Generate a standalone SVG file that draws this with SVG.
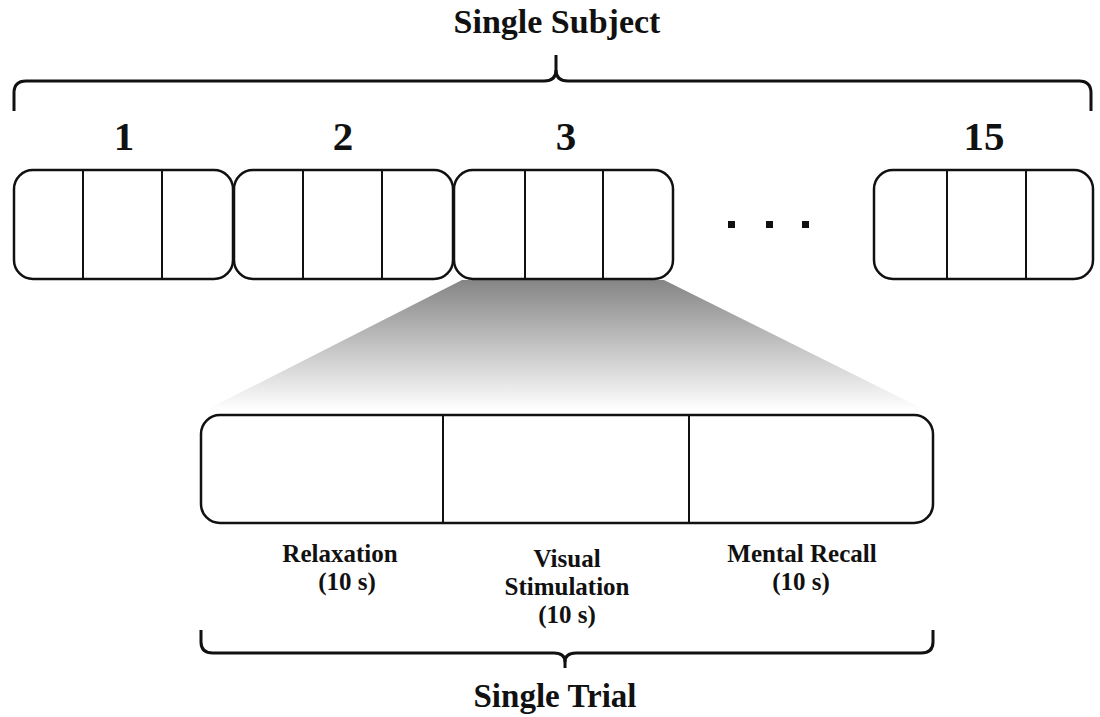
<svg xmlns="http://www.w3.org/2000/svg" width="1100" height="717" viewBox="0 0 1100 717">
<style>
.box{fill:#fff;stroke:#111;stroke-width:2.5}
.div{stroke:#111;stroke-width:2}
.brace{fill:none;stroke:#111;stroke-width:3;stroke-linejoin:round}
.t{font-family:"Liberation Serif","Times New Roman",serif;font-weight:bold;fill:#111;text-anchor:middle}
.title{font-size:34px}
.num{font-size:41px}
.lab{font-size:25px}
</style>
<defs>
<linearGradient id="zoomGrad" x1="0" y1="0" x2="0" y2="1">
<stop offset="0" stop-color="#858585"/>
<stop offset="1" stop-color="#ffffff"/>
</linearGradient>
</defs>
<rect width="1100" height="717" fill="#fff"/>
<g id="zoom-fan">
<polygon points="462,280 664,280 925,410 206,410" fill="url(#zoomGrad)"/>
</g>
<g id="subject-brace">
<path class="brace" d="M14,111 V93 Q14,81 26,81 H544 Q556,81 556,70 V55"/>
<path class="brace" d="M1091,111 V93 Q1091,81 1079,81 H568 Q556,81 556,70"/>
<text class="t title" x="557" y="33">Single Subject</text>
</g>
<g id="trial-1">
<text class="t num" x="124" y="150">1</text>
<rect class="box" x="14" y="170" width="219" height="109" rx="19"/>
<line class="div" x1="83" y1="170" x2="83" y2="279"/>
<line class="div" x1="162" y1="170" x2="162" y2="279"/>
</g>
<g id="trial-2">
<text class="t num" x="343" y="150">2</text>
<rect class="box" x="234" y="170" width="219" height="109" rx="19"/>
<line class="div" x1="303" y1="170" x2="303" y2="279"/>
<line class="div" x1="382" y1="170" x2="382" y2="279"/>
</g>
<g id="trial-3">
<text class="t num" x="566" y="150">3</text>
<rect class="box" x="454" y="170" width="219" height="109" rx="19"/>
<line class="div" x1="525" y1="170" x2="525" y2="279"/>
<line class="div" x1="603" y1="170" x2="603" y2="279"/>
</g>
<g id="ellipsis">
<rect x="728" y="221" width="7" height="7" fill="#111"/>
<rect x="766" y="221" width="7" height="7" fill="#111"/>
<rect x="802" y="221" width="7" height="7" fill="#111"/>
</g>
<g id="trial-15">
<text class="t num" x="984" y="150">15</text>
<rect class="box" x="874" y="170" width="219" height="109" rx="19"/>
<line class="div" x1="947" y1="170" x2="947" y2="279"/>
<line class="div" x1="1026" y1="170" x2="1026" y2="279"/>
</g>
<g id="single-trial">
<rect class="box" x="201" y="415" width="732" height="108" rx="19"/>
<line class="div" x1="443" y1="415" x2="443" y2="523"/>
<line class="div" x1="689" y1="415" x2="689" y2="523"/>
</g>
<g id="labels">
<text class="t lab" x="340" y="562">Relaxation</text>
<text class="t lab" x="347" y="590">(10 s)</text>
<text class="t lab" x="567" y="567">Visual</text>
<text class="t lab" x="567" y="595">Stimulation</text>
<text class="t lab" x="567" y="623">(10 s)</text>
<text class="t lab" x="802" y="562">Mental Recall</text>
<text class="t lab" x="801" y="590">(10 s)</text>
</g>
<g id="trial-brace">
<path class="brace" d="M201,630 V642 Q201,653 213,653 H554 Q565,653 565,662 V668"/>
<path class="brace" d="M933,630 V642 Q933,653 921,653 H576 Q565,653 565,662"/>
<text class="t title" x="555" y="707" textLength="163" lengthAdjust="spacingAndGlyphs">Single Trial</text>
</g>
</svg>
